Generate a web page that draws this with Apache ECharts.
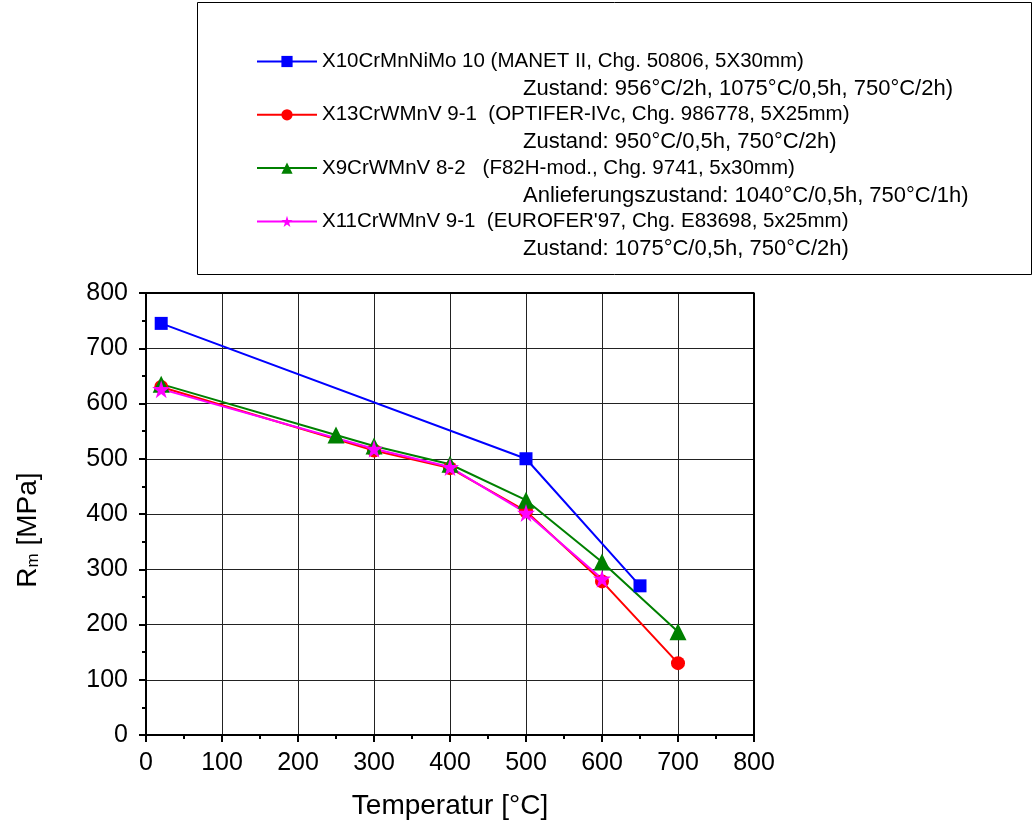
<!DOCTYPE html>
<html>
<head>
<meta charset="utf-8">
<script src="https://cdn.jsdelivr.net/npm/echarts@6/dist/echarts.min.js"></script>
<style>
  html, body { margin: 0; padding: 0; background: #fff; }
  #chart { width: 1033px; height: 825px; }
</style>
</head>
<body>
<div id="chart"></div>
<script>
// Zugfestigkeit Rm über Temperatur
const manetT = [20, 500, 650];
const manetRm = [745, 500, 270];

const optiferT = [20, 300, 400, 500, 600, 700];
const optiferRm = [630, 515, 483, 405, 278, 130];

const f82hT = [20, 250, 300, 400, 500, 600, 700];
const f82hRm = [635, 543, 523, 490, 425, 313, 187];

const euroferT = [20, 300, 400, 500, 600];
const euroferRm = [626, 518, 485, 402, 283];

const names = [
    'X10CrMnNiMo 10 (MANET II, Chg. 50806, 5X30mm)',
    'X13CrWMnV 9-1  (OPTIFER-IVc, Chg. 986778, 5X25mm)',
    'X9CrWMnV 8-2   (F82H-mod., Chg. 9741, 5x30mm)',
    'X11CrWMnV 9-1  (EUROFER\'97, Chg. E83698, 5x25mm)'
];
const zustand = [
    'Zustand: 956°C/2h, 1075°C/0,5h, 750°C/2h)',
    'Zustand: 950°C/0,5h, 750°C/2h)',
    'Anlieferungszustand: 1040°C/0,5h, 750°C/1h)',
    'Zustand: 1075°C/0,5h, 750°C/2h)'
];

const pairs = (xs, ys) => xs.map((x, i) => [x, ys[i]]);
const star = 'path://M50,0 L61,35 L98,35 L68,57 L79,91 L50,70 L21,91 L32,57 L2,35 L39,35 Z';
const font = 'Liberation Sans, Arial, sans-serif';

const chart = echarts.init(document.getElementById('chart'));

const mkSeries = (name, data, color, symbol, size) => ({
    name: name,
    type: 'line',
    data: data,
    symbol: symbol,
    symbolSize: size,
    lineStyle: { color: color, width: 2 },
    itemStyle: { color: color },
    emphasis: { disabled: true },
    z: 3
});

const axisCommon = {
    type: 'value',
    min: 0, max: 800, interval: 100,
    nameLocation: 'middle',
    axisLine: { show: true, onZero: false, lineStyle: { color: '#000', width: 2 } },
    axisTick: { show: true, inside: false, length: 7, lineStyle: { color: '#000', width: 2 } },
    minorTick: { show: true, splitNumber: 2, length: 4, lineStyle: { color: '#000', width: 2 } },
    splitLine: { show: true, lineStyle: { color: '#222', width: 1 } }
};

chart.setOption({
    animation: false,
    backgroundColor: '#fff',
    grid: { left: 146, right: 279, top: 293, bottom: 90, containLabel: false },
    legend: {
        orient: 'vertical',
        left: 251,
        top: 46,
        itemWidth: 60,
        itemHeight: 14,
        itemGap: 32.3,
        textStyle: { fontFamily: font, fontSize: 20.5, color: '#000', lineHeight: 21 },
        data: names
    },
    graphic: [
        {
            type: 'rect',
            shape: { x: 197.5, y: 2.5, width: 834, height: 272 },
            style: { fill: 'none', stroke: '#000', lineWidth: 1 },
            z: 0
        }
    ].concat(zustand.map((t, i) => ({
        type: 'text',
        left: 523,
        top: 78 + i * 53.3,
        style: { text: t, fontFamily: font, fontSize: 22, fill: '#000' }
    }))),
    xAxis: Object.assign({}, axisCommon, {
        name: 'Temperatur [°C]',
        nameGap: 57,
        nameTextStyle: { fontFamily: font, fontSize: 28, color: '#000' },
        axisLabel: { fontFamily: font, fontSize: 25, color: '#000', margin: 16 }
    }),
    yAxis: Object.assign({}, axisCommon, {
        name: '{a|R}{b|m}{a| [MPa]}',
        nameGap: 104,
        nameTextStyle: {
            padding: [0, 32, 0, 0],
            rich: {
                a: { fontFamily: font, fontSize: 28, color: '#000' },
                b: { fontFamily: font, fontSize: 17, color: '#000', verticalAlign: 'bottom', padding: [10, 0, 0, 0] }
            }
        },
        axisLabel: { fontFamily: font, fontSize: 25, color: '#000', margin: 18 }
    }),
    series: [
        mkSeries(names[0], pairs(manetT, manetRm), '#0000ff', 'rect', 13),
        mkSeries(names[1], pairs(optiferT, optiferRm), '#ff0000', 'circle', 14),
        mkSeries(names[2], pairs(f82hT, f82hRm), '#008000', 'triangle', 17),
        mkSeries(names[3], pairs(euroferT, euroferRm), '#ff00ff', star, 18),
        // Rahmen oben/rechts
        {
            type: 'line', data: [[0, 800], [800, 800], [800, 0]],
            symbol: 'none', silent: true,
            lineStyle: { color: '#000', width: 2 }, z: 4
        }
    ]
});
</script>
</body>
</html>
